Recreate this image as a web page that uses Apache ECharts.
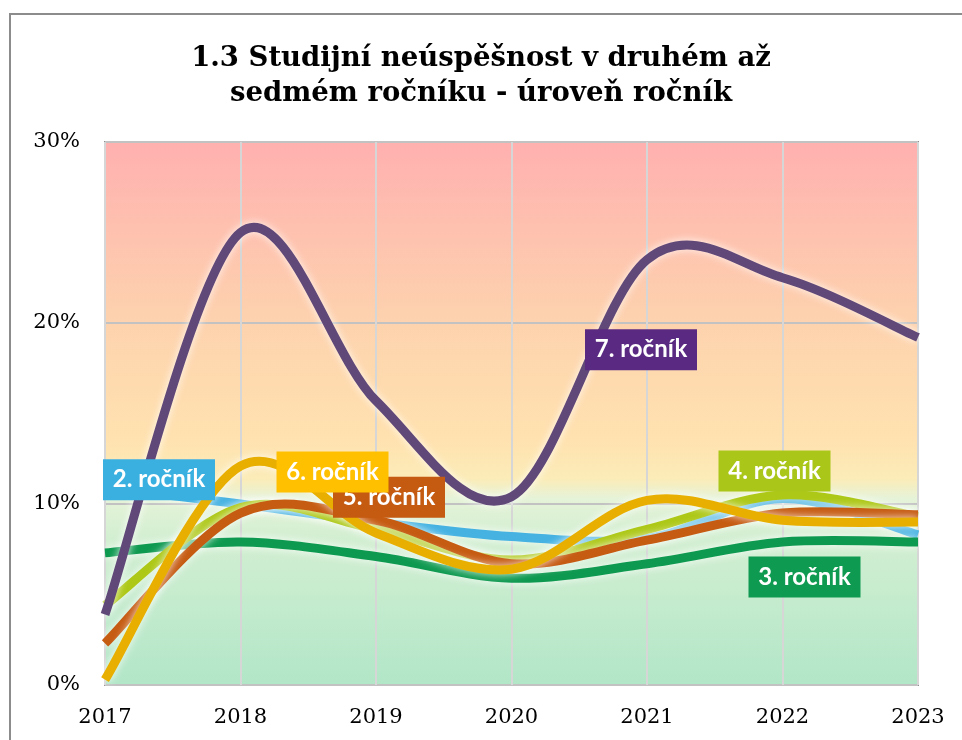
<!DOCTYPE html>
<html>
<head>
<meta charset="utf-8">
<script src="https://cdn.jsdelivr.net/npm/echarts@6/dist/echarts.min.js"></script>
<style>
  html, body { margin: 0; padding: 0; background: #fff; }
  #chart { width: 962px; height: 740px; }
</style>
</head>
<body>
<div id="chart"></div>
<script>
// data (percent)
const years = ['2017', '2018', '2019', '2020', '2021', '2022', '2023'];
const rocnik2 = [10.9, 10.0, 9.0, 8.2, 8.1, 10.3, 8.3];
const rocnik3 = [7.3, 7.9, 7.1, 5.9, 6.7, 7.9, 7.9];
const rocnik4 = [4.4, 9.8, 8.6, 6.9, 8.6, 10.5, 9.3];
const rocnik5 = [2.3, 9.5, 9.1, 6.7, 8.0, 9.5, 9.4];
const rocnik6 = [0.3, 12.1, 8.4, 6.4, 10.2, 9.1, 9.0];
const rocnik7 = [3.9, 25.0, 15.7, 10.4, 23.5, 22.5, 19.2];
const yTicks = [0, 10, 20, 30];

// styling per grade: colours, which point carries the label, label offset in px
const grades = [
  { name: '2. ročník', values: rocnik2, line: '#45B2E2', box: '#3AB0E0', at: 0, off: [54, -8] },
  { name: '3. ročník', values: rocnik3, line: '#0E9950', box: '#0E9A50', at: 5, off: [22, 35] },
  { name: '4. ročník', values: rocnik4, line: '#AEC817', box: '#AAC619', at: 5, off: [-8, -24] },
  { name: '5. ročník', values: rocnik5, line: '#C65B12', box: '#C55A11', at: 2, off: [13, -23] },
  { name: '6. ročník', values: rocnik6, line: '#E8AF00', box: '#FFC000', at: 1, off: [92, 6] },
  { name: '7. ročník', values: rocnik7, line: '#604878', box: '#5A2A82', at: 4, off: [-6, 90] }
];

const chart = echarts.init(document.getElementById('chart'));

// Excel-like smoothing (Catmull-Rom turned into cubic beziers)
function smoothPath(pts) {
  let d = 'M' + pts[0][0] + ' ' + pts[0][1];
  for (let i = 0; i < pts.length - 1; i++) {
    const p0 = pts[Math.max(i - 1, 0)];
    const p1 = pts[i];
    const p2 = pts[i + 1];
    const p3 = pts[Math.min(i + 2, pts.length - 1)];
    const c1x = p1[0] + (p2[0] - p0[0]) / 6;
    const c1y = p1[1] + (p2[1] - p0[1]) / 6;
    const c2x = p2[0] - (p3[0] - p1[0]) / 6;
    const c2y = p2[1] - (p3[1] - p1[1]) / 6;
    d += ' C' + c1x + ' ' + c1y + ' ' + c2x + ' ' + c2y + ' ' + p2[0] + ' ' + p2[1];
  }
  return d;
}

const curveSeries = grades.map(g => ({
  name: g.name,
  type: 'custom',
  coordinateSystem: 'cartesian2d',
  z: 2,
  clip: false,
  silent: true,
  encode: { x: 0, y: 1 },
  data: g.values.map((v, i) => [i, v]),
  renderItem: (params, api) => {
    if (params.dataIndex !== 0) return null;
    const pts = g.values.map((v, i) => api.coord([i, v]));
    return {
      type: 'path',
      shape: { pathData: smoothPath(pts) },
      style: {
        fill: 'none',
        stroke: g.line,
        lineWidth: 9,
        lineJoin: 'round',
        shadowColor: 'rgba(255,255,255,0.85)',
        shadowBlur: 8
      }
    };
  }
}));

// boxed labels, drawn above every line
const labelSeries = {
  name: 'popisky',
  type: 'custom',
  coordinateSystem: 'cartesian2d',
  z: 10,
  clip: false,
  silent: true,
  encode: { x: 0, y: 1 },
  data: grades.map(g => [g.at, g.values[g.at]]),
  renderItem: (params, api) => {
    const g = grades[params.dataIndex];
    const p = api.coord([api.value(0), api.value(1)]);
    return {
      type: 'text',
      x: p[0] + g.off[0],
      y: p[1] + g.off[1],
      style: {
        text: g.name,
        fill: '#fff',
        fontFamily: 'Lato',
        fontWeight: 'bold',
        fontSize: 24,
        lineHeight: 25,
        backgroundColor: g.box,
        padding: [8, 8, 8, 8],
        width: 96,
        align: 'center',
        verticalAlign: 'middle'
      }
    };
  }
};

const option = {
  animation: false,
  title: {
    text: '1.3 Studijní neúspěšnost v druhém až\nsedmém ročníku - úroveň ročník',
    left: 'center',
    top: 36,
    textStyle: {
      fontFamily: 'DejaVu Serif',
      fontWeight: 'bold',
      fontSize: 27.5,
      lineHeight: 35,
      color: '#000'
    }
  },
  graphic: [{
    type: 'rect',
    shape: { x: 10, y: 14, width: 1000, height: 800 },
    style: { fill: 'none', stroke: '#8c8c8c', lineWidth: 2 },
    z: -10
  }],
  grid: {
    left: 105,
    right: 44,
    top: 142,
    bottom: 55,
    show: true,
    borderColor: '#8f8f8f',
    borderWidth: 2,
    backgroundColor: {
      type: 'linear', x: 0, y: 0, x2: 0, y2: 1,
      colorStops: [
        { offset: 0, color: '#FFB0B0' },
        { offset: 0.33, color: '#FDD2AE' },
        { offset: 0.55, color: '#FFE2AF' },
        { offset: 0.62, color: '#FBECB8' },
        { offset: 0.655, color: '#E6F3D8' },
        { offset: 0.72, color: '#D4EFD2' },
        { offset: 1, color: '#B1E6C7' }
      ]
    }
  },
  xAxis: {
    type: 'category',
    data: years,
    boundaryGap: false,
    axisLine: { show: false },
    axisTick: { show: false },
    axisLabel: {
      margin: 22,
      color: '#000',
      fontFamily: 'DejaVu Serif',
      fontSize: 21
    },
    splitLine: { show: true, lineStyle: { color: '#d6d6d6', width: 2 } }
  },
  yAxis: {
    type: 'value',
    min: yTicks[0],
    max: yTicks[yTicks.length - 1],
    interval: 10,
    axisLine: { show: false },
    axisTick: { show: false },
    axisLabel: {
      margin: 25,
      color: '#000',
      fontFamily: 'DejaVu Serif',
      fontSize: 21,
      formatter: '{value}%'
    },
    splitLine: { lineStyle: { color: '#c2c2c2', width: 2 } }
  },
  series: curveSeries.concat([labelSeries])
};

chart.setOption(option);
</script>
</body>
</html>
